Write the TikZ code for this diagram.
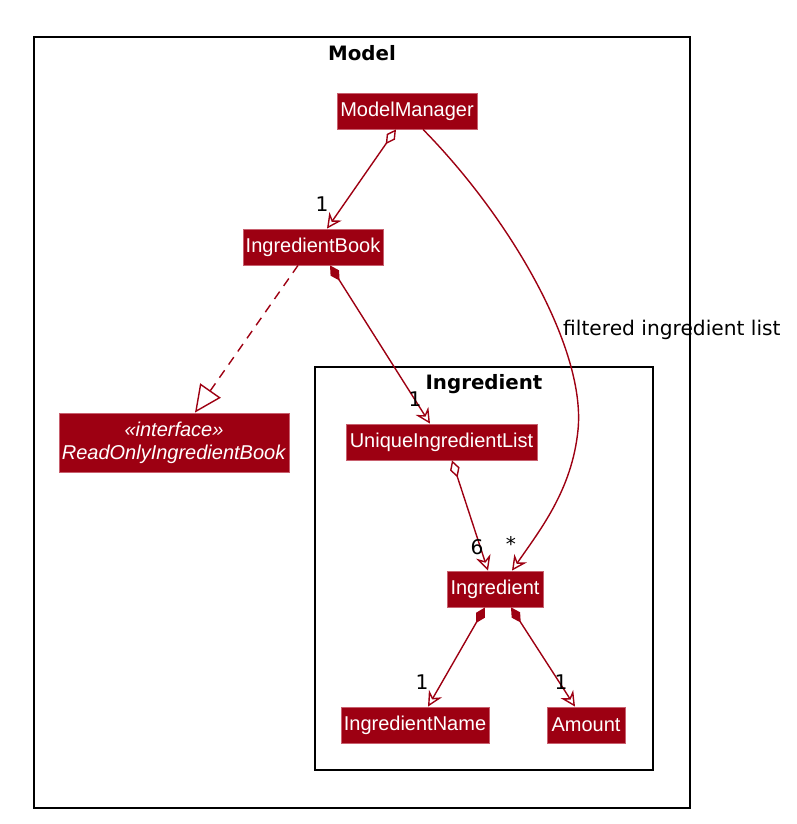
\documentclass[tikz,border=0pt]{standalone}
\usepackage{fontspec}
\setmainfont{Liberation Sans}
\newfontfamily\lblfont{DejaVu Sans}
\usetikzlibrary{arrows.meta,positioning}
\definecolor{mdlred}{HTML}{9D0012}
\definecolor{mdledge}{HTML}{C8606E}

\begin{document}
\begin{tikzpicture}[x=1pt,y=-1pt,
  cls/.style={fill=mdlred,draw=mdledge,line width=0.8pt,text=white,
    font=\fontsize{20}{23}\selectfont,minimum height=36pt,inner sep=0pt},
  pkg/.style={draw=black,line width=1.8pt},
  pkgtitle/.style={font=\lblfont\bfseries\fontsize{19.8}{23}\selectfont,inner sep=0pt},
  mult/.style={font=\lblfont\fontsize{20.2}{24}\selectfont,inner sep=0pt},
  assoc/.style={mdlred,line width=1.4pt,-{Stealth[open,length=15pt,width=15pt,inset=5pt]}},
  agg/.style={mdlred,line width=1.4pt,
    arrows={Diamond[open,length=18pt,width=10pt]-Stealth[open,length=15pt,width=15pt,inset=5pt]}},
  comp/.style={mdlred,line width=1.4pt,
    arrows={Diamond[length=18pt,width=10pt]-Stealth[open,length=15pt,width=15pt,inset=5pt]}},
  realize/.style={mdlred,line width=1.4pt,dash pattern=on 9pt off 7pt,
    -{Triangle[open,length=27pt,width=25pt]}}]

  \useasboundingbox (0,0) rectangle (796,824);

  % ---- Packages ----------------------------------------------
  \draw[pkg] (34,37) rectangle (690,808);
  \node[pkgtitle] at (362,53) {Model};
  \draw[pkg] (315,367) rectangle (653,770);
  \node[pkgtitle] at (484,384) {Ingredient};

  % ---- Classes -----------------------------------------------
  \node[cls,minimum width=140pt] (mm)     at (407,111)   {ModelManager};
  \node[cls,minimum width=140pt] (ibook)  at (313,247)   {IngredientBook};
  \node[cls,minimum width=230pt,minimum height=59pt,align=center] (robook) at (174,442.5)
    {\textit{«interface»}\\\textit{ReadOnlyIngredientBook}};
  \node[cls,minimum width=191pt] (uilist) at (441.5,442) {UniqueIngredientList};
  \node[cls,minimum width=96pt]  (ingr)   at (495,589)   {Ingredient};
  \node[cls,minimum width=148pt] (iname)  at (415,725)   {IngredientName};
  \node[cls,minimum width=78pt]  (amount) at (586,725)   {Amount};

  % ---- Relations ---------------------------------------------
  \draw[agg] ([xshift=-11pt]mm.south) -- ([xshift=14pt]ibook.north);
  \node[mult] at (322,204) {1};

  \draw[assoc] ([xshift=16pt]mm.south)
    .. controls (512,220) and (586,350) .. (578,430)
    .. controls (572,490) and (540,530) .. ([xshift=17pt]ingr.north);
  \node[mult,anchor=west] (flabel) at (563,330) {filtered ingredient list};
  \node[mult] at (511,544) {*};

  \draw[realize] ([xshift=-15pt]ibook.south) -- ([xshift=21pt]robook.north);

  \draw[comp] ([xshift=17pt]ibook.south) -- ([xshift=-11.5pt]uilist.north);
  \node[mult] at (415,399) {1};

  \draw[agg] ([xshift=10.5pt]uilist.south) -- ([xshift=-7pt]ingr.north);
  \node[mult] at (477,547) {6};

  \draw[comp] ([xshift=-10pt]ingr.south) -- ([xshift=13pt]iname.north);
  \node[mult] at (422,682) {1};
  \draw[comp] ([xshift=16pt]ingr.south) -- ([xshift=-11pt]amount.north);
  \node[mult] at (561,682) {1};

\end{tikzpicture}
\end{document}
